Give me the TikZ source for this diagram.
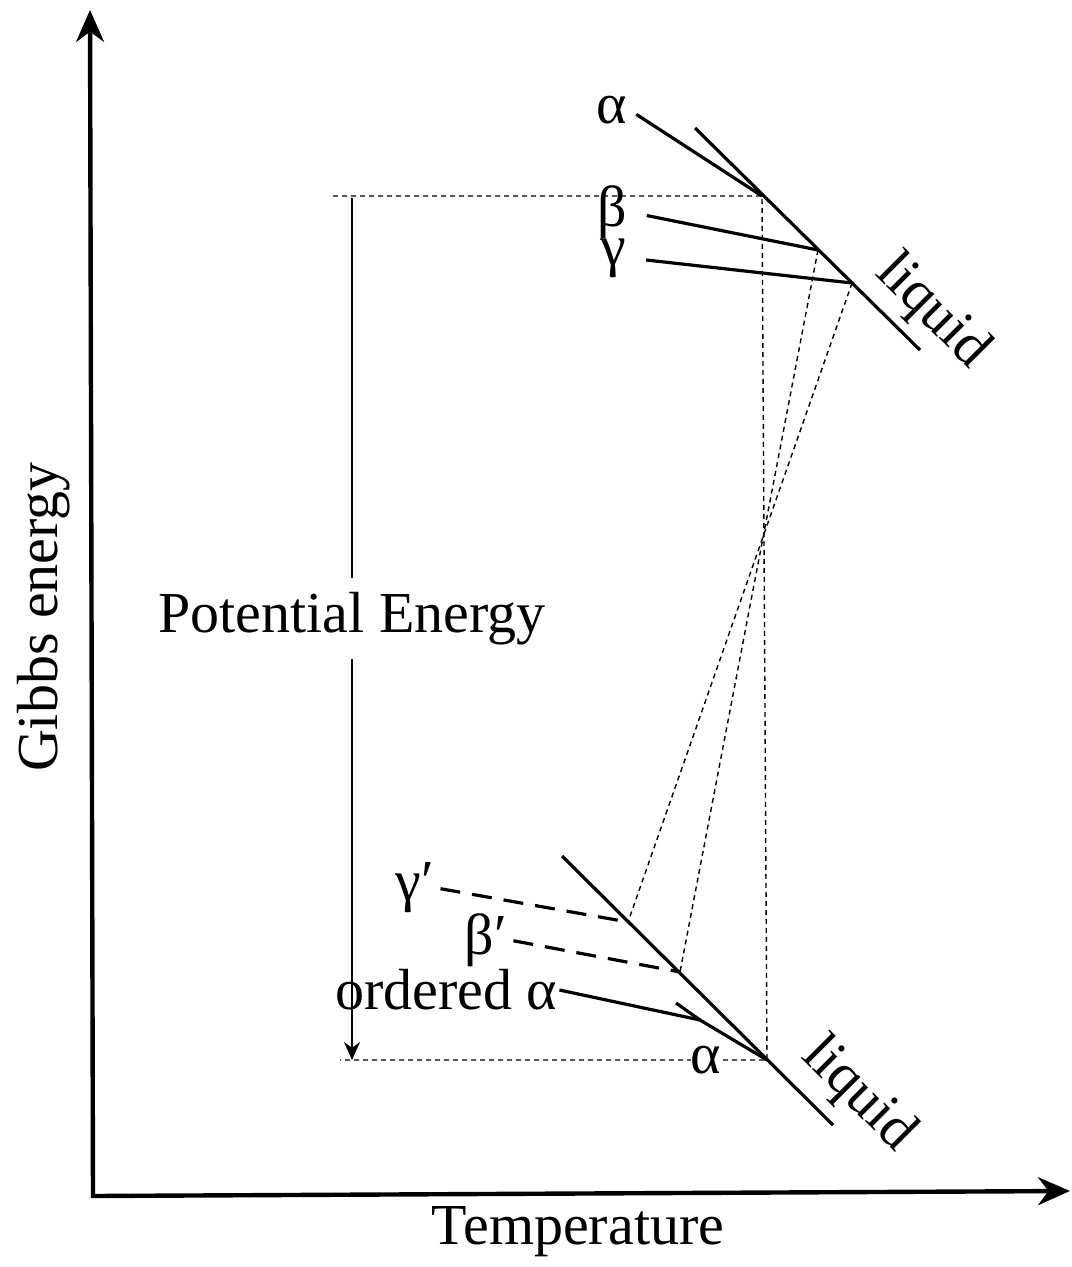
\documentclass[tikz,border=0pt]{standalone}
\usepackage{fontspec}
\setmainfont{Liberation Serif}
\usetikzlibrary{arrows.meta}

\begin{document}
\begin{tikzpicture}[
    x=0.5pt,y=-0.5pt,
    axis/.style={line width=2.2pt,{Stealth[length=16pt,width=14pt]}-{Stealth[length=16pt,width=14pt]}},
    phase/.style={line width=1.6pt},
    primed/.style={line width=1.6pt,dash pattern=on 10pt off 6pt},
    guide/.style={line width=0.7pt,dash pattern=on 2.5pt off 2pt},
    pe/.style={line width=1pt,-{Stealth[length=9pt,width=8pt]}},
    lbl/.style={font=\fontsize{29}{33}\selectfont,inner sep=1pt}
]
\useasboundingbox (0,0) rectangle (1071,1267);

% axes
\coordinate (ytip) at (90,10);
\coordinate (origin) at (93,1196);
\coordinate (xtip) at (1070,1191);
\draw[axis] (ytip) -- (origin) -- (xtip);
\node[lbl,rotate=90] (gibbs) at (44,617) {Gibbs energy};
\node[lbl] (temp) at (578,1232) {Temperature};

% upper set: alpha, beta, gamma against liquid
\coordinate (aU) at (762,196);
\coordinate (bU) at (818,250);
\coordinate (gU) at (852,283);
\coordinate (lqU1) at (695,128);
\coordinate (lqU2) at (920,350);
\node[lbl] (alphaU) at (612,110) {α};
\node[lbl] (betaU) at (612,212) {β};
\node[lbl] (gammaU) at (613,258) {γ};
\node[lbl,rotate=-45] (liqU) at (932,312) {liquid};
\draw[phase] (lqU1) -- (lqU2);
\draw[phase,shorten <=4pt] (alphaU.east) -- (aU);
\draw[phase,shorten <=9pt] (betaU.east) -- (bU);
\draw[phase,shorten <=9pt] (gammaU.east) -- (gU);

% lower set: ordered alpha, beta', gamma' against liquid
\coordinate (aL) at (767,1060);
\coordinate (bL) at (680,972);
\coordinate (gL) at (628,922);
\coordinate (lqL1) at (562,856);
\coordinate (lqL2) at (833,1125);
\coordinate (aLend) at (676,1003);
\coordinate (merge) at (700,1020);
\node[lbl] (gammaL) at (415,888) {γ′};
\node[lbl] (betaL) at (486,940) {β′};
\node[lbl] (ordered) at (446,990) {ordered α};
\node[lbl,rotate=-45] (liqL) at (858,1095) {liquid};
\draw[phase] (lqL1) -- (lqL2);
\draw[primed,shorten <=2pt] (gammaL.east) -- (gL);
\draw[primed,shorten <=2pt] (betaL.east) -- (bL);
\draw[phase] (ordered.east) -- (merge) -- (aL);
\draw[phase] (aLend) -- (merge);

% guide lines
\coordinate (hU) at (333,196);
\coordinate (hL) at (340,1060);
\draw[guide] (hU) -- (aU) -- (aL) -- (hL);
\draw[guide] (bU) -- (bL);
\draw[guide] (gU) -- (gL);
\node[lbl,fill=white,inner sep=0pt] (alphaL) at (706,1060) {α};

% potential energy
\coordinate (peTop) at (352,198);
\coordinate (peBot) at (352,1060);
\draw[pe] (peTop) -- node[lbl,fill=white,pos=0.488,inner xsep=0pt,inner ysep=7pt] (pot) {Potential Energy} (peBot);

\end{tikzpicture}
\end{document}
